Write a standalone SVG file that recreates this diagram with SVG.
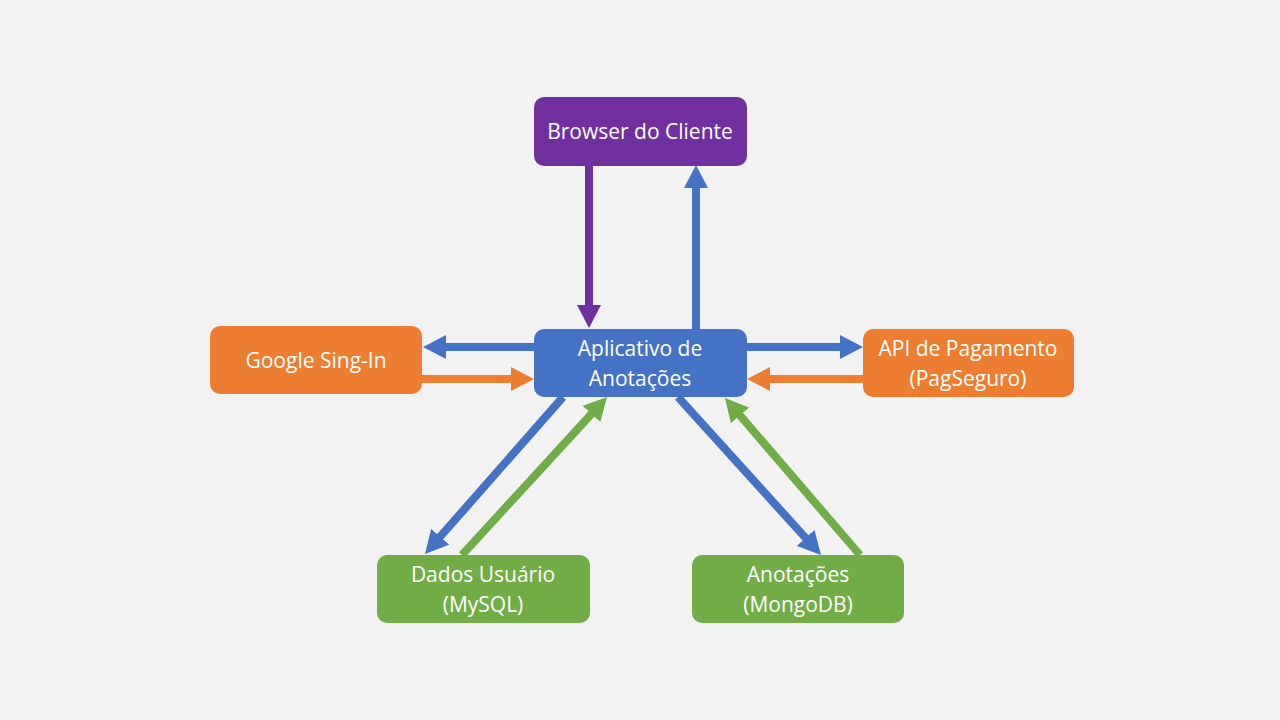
<svg xmlns="http://www.w3.org/2000/svg" width="1280" height="720" viewBox="0 0 1280 720">
<style>
.t{font-family:"Open Sans","Noto Sans",sans-serif;font-size:21px;fill:#fff;text-anchor:middle}
.l{stroke-width:8;fill:none}
</style>
<defs>
<marker id="mb" markerUnits="userSpaceOnUse" markerWidth="24" markerHeight="24" refX="2" refY="12" orient="auto" viewBox="0 0 24 24"><path d="M0,0 L23,12 L0,24 z" fill="#4472C4"/></marker>
<marker id="mp" markerUnits="userSpaceOnUse" markerWidth="24" markerHeight="24" refX="2" refY="12" orient="auto" viewBox="0 0 24 24"><path d="M0,0 L23,12 L0,24 z" fill="#7030A0"/></marker>
<marker id="mo" markerUnits="userSpaceOnUse" markerWidth="24" markerHeight="24" refX="2" refY="12" orient="auto" viewBox="0 0 24 24"><path d="M0,0 L23,12 L0,24 z" fill="#ED7D31"/></marker>
<marker id="mg" markerUnits="userSpaceOnUse" markerWidth="24" markerHeight="24" refX="2" refY="12" orient="auto" viewBox="0 0 24 24"><path d="M0,0 L23,12 L0,24 z" fill="#70AD47"/></marker>
</defs>
<rect width="1280" height="720" fill="#F2F2F2"/>
<g id="connectors">
<line class="l" x1="589" y1="166" x2="589" y2="307" stroke="#7030A0" marker-end="url(#mp)"/>
<line class="l" x1="696" y1="329" x2="696" y2="186" stroke="#4472C4" marker-end="url(#mb)"/>
<line class="l" x1="534" y1="347" x2="444" y2="347" stroke="#4472C4" marker-end="url(#mb)"/>
<line class="l" x1="422" y1="379" x2="513" y2="379" stroke="#ED7D31" marker-end="url(#mo)"/>
<line class="l" x1="747" y1="347" x2="842" y2="347" stroke="#4472C4" marker-end="url(#mb)"/>
<line class="l" x1="863" y1="379" x2="768" y2="379" stroke="#ED7D31" marker-end="url(#mo)"/>
<line class="l" x1="563" y1="397" x2="438.9" y2="538.2" stroke="#4472C4" marker-end="url(#mb)"/>
<line class="l" x1="462" y1="555" x2="592.8" y2="412.5" stroke="#70AD47" marker-end="url(#mg)"/>
<line class="l" x1="678" y1="397" x2="806.9" y2="539.4" stroke="#4472C4" marker-end="url(#mb)"/>
<line class="l" x1="860" y1="555" x2="738.7" y2="413.9" stroke="#70AD47" marker-end="url(#mg)"/>
</g>
<g id="browser">
<rect x="534" y="97" width="213" height="69" rx="10" fill="#7030A0"/>
<text class="t" x="640" y="139">Browser do Cliente</text>
</g>
<g id="app">
<rect x="534" y="329" width="213" height="68" rx="10" fill="#4472C4"/>
<text class="t" x="640" y="356">Aplicativo de</text>
<text class="t" x="640" y="386">Anotações</text>
</g>
<g id="google">
<rect x="210" y="326" width="212" height="68" rx="10" fill="#ED7D31"/>
<text class="t" x="316" y="368">Google Sing-In</text>
</g>
<g id="api">
<rect x="863" y="329" width="211" height="68" rx="10" fill="#ED7D31"/>
<text class="t" x="968" y="356">API de Pagamento</text>
<text class="t" x="968" y="386">(PagSeguro)</text>
</g>
<g id="mysql">
<rect x="377" y="555" width="213" height="68" rx="10" fill="#70AD47"/>
<text class="t" x="483" y="582">Dados Usuário</text>
<text class="t" x="483" y="612">(MySQL)</text>
</g>
<g id="mongo">
<rect x="692" y="555" width="212" height="68" rx="10" fill="#70AD47"/>
<text class="t" x="798" y="582">Anotações</text>
<text class="t" x="798" y="612">(MongoDB)</text>
</g>
</svg>
